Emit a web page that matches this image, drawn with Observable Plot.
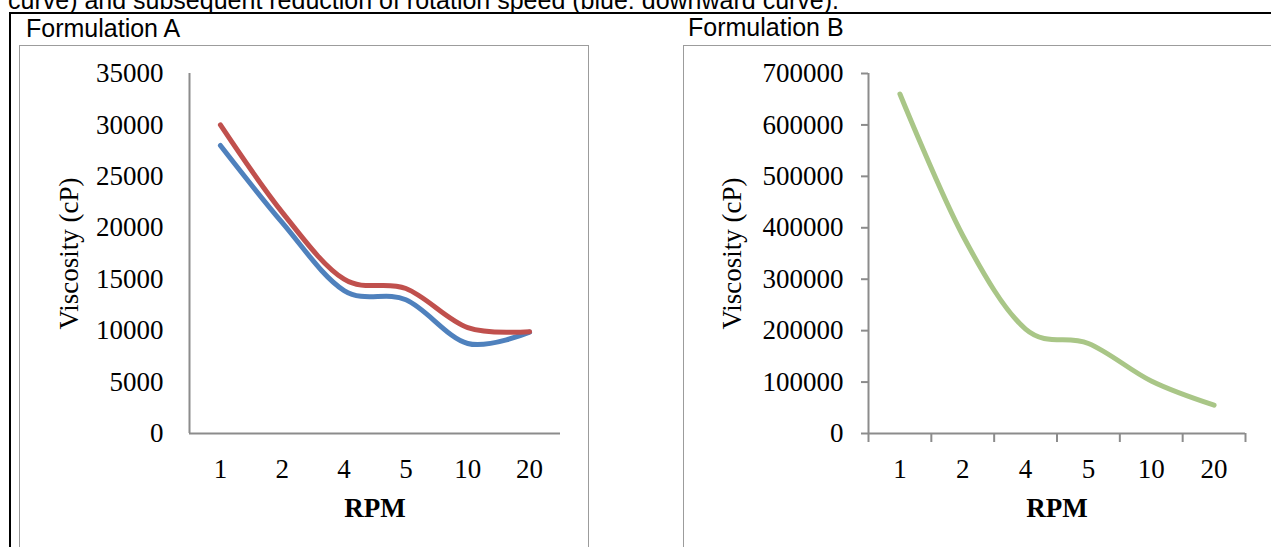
<!DOCTYPE html>
<html><head><meta charset="utf-8">
<script src="https://cdn.jsdelivr.net/npm/d3@7"></script>
<script src="https://cdn.jsdelivr.net/npm/@observablehq/plot@0.6"></script>
<style>
html,body{margin:0;padding:0;background:#fff;}
body{width:1271px;height:547px;overflow:hidden;position:relative;font-family:"Liberation Sans",Arial,sans-serif;color:#000;}
.caption{position:absolute;left:8px;top:-12px;font-size:25px;line-height:25px;white-space:nowrap;}
.outer{position:absolute;left:9px;top:12px;width:1400px;height:700px;border:2px solid #000;}
.title{position:absolute;font-size:25px;line-height:25px;white-space:nowrap;}
.box{position:absolute;top:45px;border:1px solid #9c9c9c;height:700px;}
.box svg{display:block;}
</style>
</head><body>
<div class="caption">curve) and subsequent reduction of rotation speed (blue: downward curve).</div>
<div class="outer"></div>
<div class="title" style="left:26px;top:16px;">Formulation A</div>
<div class="title" style="left:688px;top:15px;">Formulation B</div>
<div class="box" id="boxA" style="left:19px;width:568px;"></div>
<div class="box" id="boxB" style="left:683px;width:700px;border-right:none;"></div>
<script>
// Data
const rpm = ["1", "2", "4", "5", "10", "20"];
const upA = [30000, 21500, 15000, 14100, 10300, 9900];     // red: increasing rotation speed
const downA = [28000, 20500, 13900, 13000, 8750, 9850];    // blue: decreasing rotation speed
const formB = [660000, 385000, 203000, 175000, 102000, 55000];
const yTicksA = [0, 5000, 10000, 15000, 20000, 25000, 30000, 35000];
const yTicksB = [0, 100000, 200000, 300000, 400000, 500000, 600000, 700000];
const yLabel = "Viscosity (cP)";
const xLabel = "RPM";

const red = "#C0504D", blue = "#4F81BD", green = "#A9C687", axisColor = "#8c8c8c";
const pos = rpm.map((d, i) => i + 0.5);
const bounds = rpm.map((d, i) => i).concat([rpm.length]);
const serif = '"Liberation Serif", "Times New Roman", serif';

function panel({width, marginLeft, marginRight, yMax, yTicks, series, ticks, yLabelDx, tickPad}) {
  const marks = [
    Plot.ruleX([0], {stroke: axisColor, strokeWidth: 2}),
    Plot.ruleY([0], {stroke: axisColor, strokeWidth: 2}),
    Plot.axisY({ticks: yTicks, tickSize: ticks ? 7 : 0, tickPadding: ticks ? 18 : 26,
      stroke: axisColor, strokeWidth: 2, fill: "#000", tickFormat: d => String(d), label: null}),
    Plot.axisX({ticks: pos, tickSize: 0, tickPadding: 25, fill: "#000",
      tickFormat: d => rpm[Math.floor(d)], label: null})
  ];
  if (ticks) {
    marks.push(Plot.axisX({ticks: bounds, tickSize: 9, stroke: axisColor, strokeWidth: 2,
      tickFormat: () => "", label: null}));
  }
  for (const s of series) {
    marks.push(Plot.line(s.values, {x: (d, i) => i + 0.5, y: d => d, curve: "cardinal",
      stroke: s.color, strokeWidth: 5, strokeLinecap: "round", strokeLinejoin: "round"}));
  }
  marks.push(Plot.text([yLabel], {text: d => d, frameAnchor: "left", rotate: -90, dx: yLabelDx,
    lineAnchor: "bottom", textAnchor: "middle", fill: "#000"}));
  marks.push(Plot.text([xLabel], {text: d => d, frameAnchor: "bottom", dy: 83,
    lineAnchor: "bottom", textAnchor: "middle", fontWeight: "bold", fill: "#000"}));
  return Plot.plot({
    width, height: 501, marginLeft, marginRight, marginTop: 27, marginBottom: 114,
    style: {fontFamily: serif, fontSize: "27px", color: "#000", background: "transparent", overflow: "visible"},
    x: {domain: [0, rpm.length], axis: null},
    y: {domain: [0, yMax], axis: null},
    marks
  });
}

document.getElementById("boxA").append(panel({
  width: 568, marginLeft: 169, marginRight: 28, yMax: 35000, yTicks: yTicksA,
  series: [{values: downA, color: blue}, {values: upA, color: red}], ticks: false, yLabelDx: -112
}));
document.getElementById("boxB").append(panel({
  width: 600, marginLeft: 184, marginRight: 39, yMax: 700000, yTicks: yTicksB,
  series: [{values: formB, color: green}], ticks: true, yLabelDx: -128
}));
</script>
</body></html>
